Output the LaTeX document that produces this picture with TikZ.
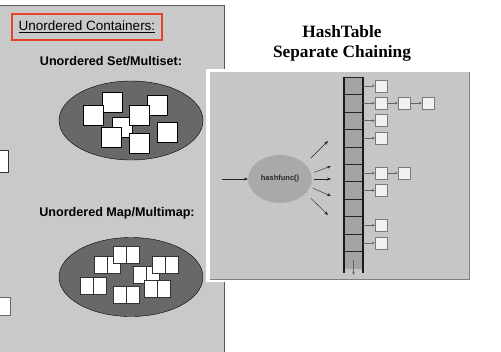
\documentclass[tikz,border=0pt]{standalone}
\usepackage{fontspec}
\setmainfont{Liberation Serif}
\setsansfont{Liberation Sans}
\usetikzlibrary{arrows.meta,positioning,shapes.geometric}
\definecolor{panelgray}{HTML}{C9C9C9}
\definecolor{boardgray}{HTML}{C6C6C6}
\definecolor{bagfill}{HTML}{686868}
\definecolor{funcfill}{HTML}{A9A9A9}
\definecolor{slotfill}{HTML}{A4A4A4}
\definecolor{linkfill}{HTML}{F1F1F1}
\definecolor{linkline}{HTML}{7A7A7A}
\definecolor{markred}{HTML}{E4432B}

\begin{document}
\begin{tikzpicture}[x=1pt,y=-1pt,>={Stealth[length=4pt,width=3pt]},
font=\sffamily,
bag/.style={ellipse,draw=black,fill=bagfill,minimum width=144pt,minimum height=79pt},
elem/.style={draw=black,fill=white,minimum size=20pt,inner sep=0pt,outer sep=0pt},
half/.style={draw=black!80,fill=white,minimum width=13pt,minimum height=17pt,inner sep=0pt,outer sep=0pt},
label/.style={font=\sffamily\bfseries\fontsize{12.6}{14}\selectfont},
slot/.style={fill=slotfill,minimum width=19pt,minimum height=17.45pt,inner sep=0pt,outer sep=0pt},
link/.style={draw=linkline,fill=linkfill,minimum size=12pt,inner sep=0pt,outer sep=0pt},
chain/.style={->,draw=black!60,>={Stealth[length=3pt,width=2.5pt]}},
arr/.style={->,black!85}]
\useasboundingbox (0,0) rectangle (501,351);

% left sheet
\fill[panelgray] (-2,5) rectangle (224,353);
\draw[black!65,thick] (-2,5) -- (224,5) -- (224,353);
\node[draw=black!80,fill=white,minimum width=12pt,minimum height=22pt] (cut1) at (2,161) {};
\node[draw=black!60,fill=white,minimum width=14pt,minimum height=18pt] (cut2) at (3,306) {};

\node[draw=markred,line width=1.6pt,minimum width=150pt,minimum height=26pt,
  font=\sffamily\fontsize{13.5}{15}\selectfont] (head) at (87,27) {\underline{Unordered Containers:}};

\node[label] (setlbl) at (111,61) {Unordered Set/Multiset:};
\node[bag] (set) at (131,120.5) {};
\foreach \n/\x/\y in {1/112/102.5,2/157/105,3/122.5/127,4/93.5/115.5,5/139/115.5,6/167.5/132.5,7/111/137.5,8/139/143.5}
  \node[elem] (s\n) at (\x,\y) {};

\node[label] (maplbl) at (117,213) {Unordered Map/Multimap:};
\node[bag] (map) at (131,277) {};
\foreach \n/\x/\y in {1/100.5/265,2/119.5/255,4/139.5/275,3/158.5/265,5/86.5/285.5,6/150.5/288.5,7/119.5/295}{
  \node[half] (m\n a) at (\x,\y) {};
  \node[half,right=0pt of m\n a] (m\n b) {};
}

% hash table board
\fill[white] (206,69) rectangle (471,282);
\fill[boardgray] (210,72) rectangle (469,279);
\draw[black!50] (469,72) -- (469,279) -- (210,279);

\node[font=\rmfamily\bfseries\fontsize{17.3}{20}\selectfont,align=center] (title) at (342,43) {HashTable\\Separate Chaining};

\node[ellipse,fill=funcfill,minimum width=62pt,minimum height=48pt,
  font=\sffamily\bfseries\fontsize{7.5}{9}\selectfont,text=black!85] (hf) at (280,179) {hashfunc()};
\coordinate (key) at (222,179);
\draw[arr] (key) -- (hf);
\coordinate (o1) at (328,141);
\coordinate (o2) at (331,166);
\coordinate (o3) at (331,179);
\coordinate (o4) at (331,196);
\coordinate (o5) at (328,215);
\draw[arr,shorten <=8pt] (hf.31) -- (o1);
\draw[arr,shorten <=3pt] (hf.10) -- (o2);
\draw[arr,shorten <=2pt] (hf.0) -- (o3);
\draw[arr,shorten <=3pt] (hf.-15) -- (o4);
\draw[arr,shorten <=7pt] (hf.-29) -- (o5);

\foreach \i in {1,...,11}
  \node[slot] (c\i) at (353.5,{77+17.45*(\i-0.5)}) {};
\foreach \i in {1,...,10}
  \draw[black!85,semithick] (c\i.south west) -- (c\i.south east);
\draw[black!85,semithick] (c1.north west) -- (c1.north east);
\coordinate[below=4pt of c11.south west] (endl);
\coordinate[below=4pt of c11.south east] (endr);
\draw[black!90,line width=2pt] (c1.north west) -- (endl);
\draw[black!90,line width=2pt] (c1.north east) -- (endr);
\coordinate[below=6pt of c11.south] (more);
\draw[chain] (c11.center) -- (more);

\foreach \i in {1,2,3,4,6,7,9,10}{
  \node[link,right=12pt of c\i] (k\i) {};
  \draw[chain] (c\i) -- (k\i);
}
\node[link,right=11pt of k2] (k2b) {};
\node[link,right=12pt of k2b] (k2c) {};
\node[link,right=11pt of k6] (k6b) {};
\draw[chain] (k2) -- (k2b);
\draw[chain] (k2b) -- (k2c);
\draw[chain] (k6) -- (k6b);
\end{tikzpicture}
\end{document}
